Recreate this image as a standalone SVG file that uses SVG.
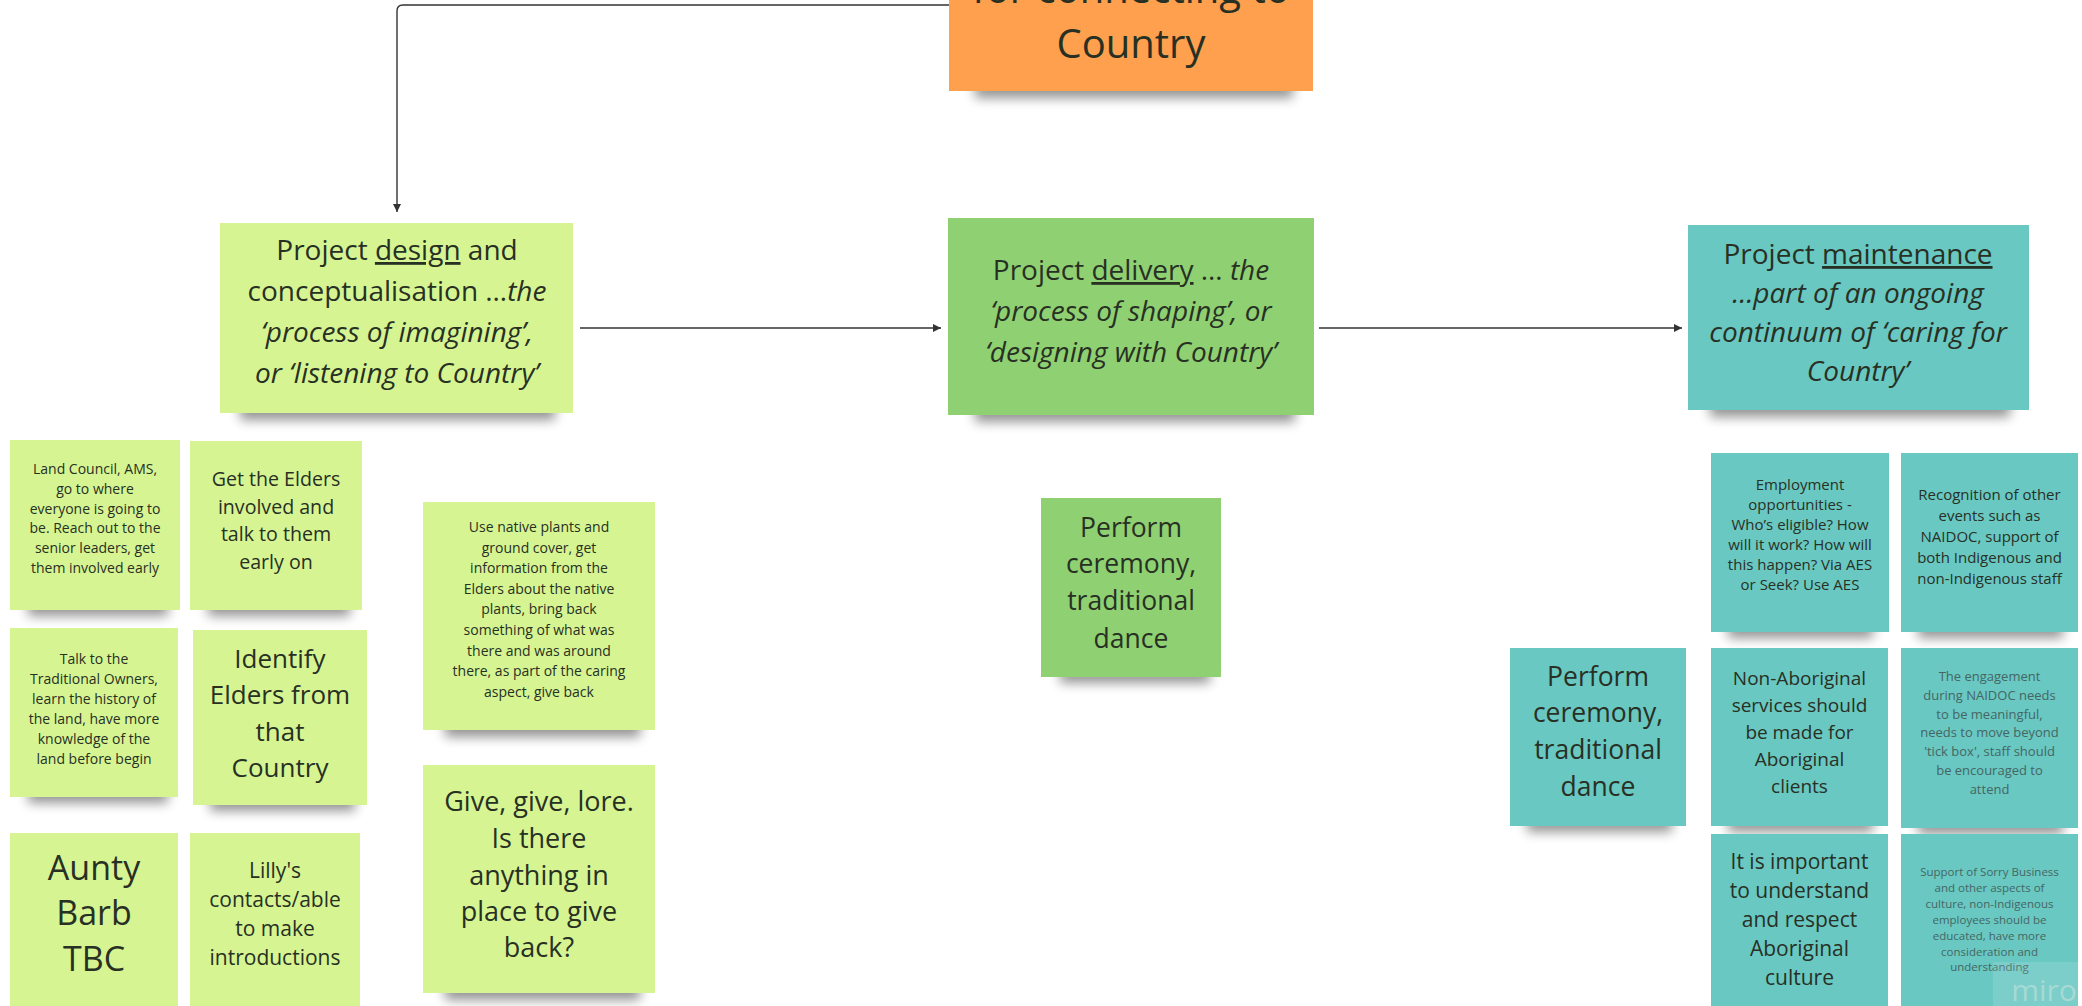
<svg xmlns="http://www.w3.org/2000/svg" width="2082" height="1006" viewBox="0 0 2082 1006">
<style>
text{font-family:"Open Sans","Noto Sans","Liberation Sans",sans-serif;fill:#283024;text-anchor:middle}
.lg{fill:#d6f592}
.gr{fill:#8fd172}
.te{fill:#69c8c2}
.or{fill:#fea04d}
.sh{fill:#000;opacity:.42;filter:url(#blur)}
.conn{fill:none;stroke:#333;stroke-width:1.4}
.it{font-style:italic}
.u{text-decoration:underline}
.fade{fill:#456663}
</style>
<defs>
<filter id="blur" x="-20%" y="-150%" width="140%" height="400%"><feGaussianBlur stdDeviation="6"/></filter>
<marker id="ah" viewBox="0 0 10 10" refX="10" refY="5" markerWidth="8" markerHeight="8" markerUnits="userSpaceOnUse" orient="auto"><path d="M0,0 L10,5 L0,10 z" fill="#333"/></marker>
</defs>
<rect width="2082" height="1006" fill="#fff"/>

<g id="connectors">
<path class="conn" d="M949,5 H403 Q397,5 397,11 V212" marker-end="url(#ah)"/>
<path class="conn" d="M580,328 H941" marker-end="url(#ah)"/>
<path class="conn" d="M1319,328 H1682" marker-end="url(#ah)"/>
</g>

<g id="n-top">
<rect class="sh" x="975" y="80" width="318" height="18"/>
<rect class="or" x="949" y="-60" width="364" height="151"/>
<text font-size="40"><tspan x="1131" y="3">for connecting to</tspan><tspan x="1131" y="58">Country</tspan></text>
</g>

<g id="n-design">
<rect class="sh" x="240" y="400" width="315" height="20"/>
<rect class="lg" x="220" y="223" width="353" height="190"/>
<text font-size="28"><tspan x="397" y="260">Project <tspan class="u">design</tspan> and</tspan><tspan x="397" y="301">conceptualisation …<tspan class="it">the</tspan></tspan><tspan x="397" y="342" class="it">‘process of imagining’,</tspan><tspan x="397" y="383" class="it">or ‘listening to Country’</tspan></text>
</g>

<g id="n-delivery">
<rect class="sh" x="975" y="402" width="320" height="20"/>
<rect class="gr" x="948" y="218" width="366" height="197"/>
<text font-size="28"><tspan x="1131" y="280">Project <tspan class="u">delivery</tspan> … <tspan class="it">the</tspan></tspan><tspan x="1131" y="321" class="it">‘process of shaping’, or</tspan><tspan x="1131" y="362" class="it">‘designing with Country’</tspan></text>
</g>

<g id="n-maintenance">
<rect class="sh" x="1710" y="397" width="300" height="20"/>
<rect class="te" x="1688" y="225" width="341" height="185"/>
<text font-size="28"><tspan x="1858" y="264">Project <tspan class="u">maintenance</tspan></tspan><tspan x="1858" y="303" class="it">…part of an ongoing</tspan><tspan x="1858" y="342" class="it">continuum of ‘caring for</tspan><tspan x="1858" y="381" class="it">Country’</tspan></text>
</g>

<g id="n-land">
<rect class="sh" x="28" y="598" width="140" height="18"/>
<rect class="lg" x="10" y="440" width="170" height="170"/>
<text font-size="14"><tspan x="95" y="474">Land Council, AMS,</tspan><tspan x="95" y="494">go to where</tspan><tspan x="95" y="514">everyone is going to</tspan><tspan x="95" y="533">be. Reach out to the</tspan><tspan x="95" y="553">senior leaders, get</tspan><tspan x="95" y="573">them involved early</tspan></text>
</g>

<g id="n-getelders">
<rect class="sh" x="208" y="598" width="142" height="18"/>
<rect class="lg" x="190" y="441" width="172" height="169"/>
<text font-size="19.6"><tspan x="276" y="486">Get the Elders</tspan><tspan x="276" y="514">involved and</tspan><tspan x="276" y="541">talk to them</tspan><tspan x="276" y="569">early on</tspan></text>
</g>

<g id="n-talk">
<rect class="sh" x="28" y="785" width="140" height="18"/>
<rect class="lg" x="10" y="628" width="168" height="169"/>
<text font-size="14"><tspan x="94" y="664">Talk to the</tspan><tspan x="94" y="684">Traditional Owners,</tspan><tspan x="94" y="704">learn the history of</tspan><tspan x="94" y="724">the land, have more</tspan><tspan x="94" y="744">knowledge of the</tspan><tspan x="94" y="764">land before begin</tspan></text>
</g>

<g id="n-identify">
<rect class="sh" x="210" y="793" width="145" height="18"/>
<rect class="lg" x="193" y="630" width="174" height="175"/>
<text font-size="26"><tspan x="280" y="668">Identify</tspan><tspan x="280" y="704">Elders from</tspan><tspan x="280" y="741">that</tspan><tspan x="280" y="777">Country</tspan></text>
</g>

<g id="n-aunty">
<rect class="lg" x="10" y="833" width="168" height="173"/>
<text font-size="34"><tspan x="94" y="880">Aunty</tspan><tspan x="94" y="925">Barb</tspan><tspan x="94" y="971">TBC</tspan></text>
</g>

<g id="n-lilly">
<rect class="lg" x="190" y="833" width="170" height="173"/>
<text font-size="21"><tspan x="275" y="878">Lilly's</tspan><tspan x="275" y="907">contacts/able</tspan><tspan x="275" y="936">to make</tspan><tspan x="275" y="965">introductions</tspan></text>
</g>

<g id="n-native">
<rect class="sh" x="445" y="717" width="195" height="20"/>
<rect class="lg" x="423" y="502" width="232" height="228"/>
<text font-size="14"><tspan x="539" y="532">Use native plants and</tspan><tspan x="539" y="553">ground cover, get</tspan><tspan x="539" y="573">information from the</tspan><tspan x="539" y="594">Elders about the native</tspan><tspan x="539" y="614">plants, bring back</tspan><tspan x="539" y="635">something of what was</tspan><tspan x="539" y="656">there and was around</tspan><tspan x="539" y="676">there, as part of the caring</tspan><tspan x="539" y="697">aspect, give back</tspan></text>
</g>

<g id="n-give">
<rect class="sh" x="445" y="980" width="195" height="20"/>
<rect class="lg" x="423" y="765" width="232" height="228"/>
<text font-size="27"><tspan x="539" y="811">Give, give, lore.</tspan><tspan x="539" y="848">Is there</tspan><tspan x="539" y="885">anything in</tspan><tspan x="539" y="921">place to give</tspan><tspan x="539" y="957">back?</tspan></text>
</g>

<g id="n-perform1">
<rect class="sh" x="1060" y="665" width="150" height="18"/>
<rect class="gr" x="1041" y="498" width="180" height="179"/>
<text font-size="26.5"><tspan x="1131" y="537">Perform</tspan><tspan x="1131" y="573">ceremony,</tspan><tspan x="1131" y="610">traditional</tspan><tspan x="1131" y="648">dance</tspan></text>
</g>

<g id="n-employment">
<rect class="sh" x="1728" y="620" width="145" height="18"/>
<rect class="te" x="1711" y="453" width="178" height="179"/>
<text font-size="15"><tspan x="1800" y="490">Employment</tspan><tspan x="1800" y="510">opportunities -</tspan><tspan x="1800" y="530">Who’s eligible? How</tspan><tspan x="1800" y="550">will it work? How will</tspan><tspan x="1800" y="570">this happen? Via AES</tspan><tspan x="1800" y="590">or Seek? Use AES</tspan></text>
</g>

<g id="n-recognition">
<rect class="sh" x="1918" y="620" width="145" height="18"/>
<rect class="te" x="1901" y="453" width="177" height="179"/>
<text font-size="15"><tspan x="1989.5" y="500">Recognition of other</tspan><tspan x="1989.5" y="521">events such as</tspan><tspan x="1989.5" y="542">NAIDOC, support of</tspan><tspan x="1989.5" y="563">both Indigenous and</tspan><tspan x="1989.5" y="584">non-Indigenous staff</tspan></text>
</g>

<g id="n-perform2">
<rect class="sh" x="1527" y="814" width="145" height="18"/>
<rect class="te" x="1510" y="648" width="176" height="178"/>
<text font-size="26.5"><tspan x="1598" y="686">Perform</tspan><tspan x="1598" y="722">ceremony,</tspan><tspan x="1598" y="759">traditional</tspan><tspan x="1598" y="796">dance</tspan></text>
</g>

<g id="n-nonab">
<rect class="sh" x="1728" y="814" width="145" height="18"/>
<rect class="te" x="1711" y="648" width="177" height="178"/>
<text font-size="19"><tspan x="1799.5" y="685">Non-Aboriginal</tspan><tspan x="1799.5" y="712">services should</tspan><tspan x="1799.5" y="739">be made for</tspan><tspan x="1799.5" y="766">Aboriginal</tspan><tspan x="1799.5" y="793">clients</tspan></text>
</g>

<g id="n-engagement">
<rect class="sh" x="1918" y="816" width="145" height="18"/>
<rect class="te" x="1901" y="648" width="177" height="180"/>
<text font-size="13" class="fade"><tspan x="1989.5" y="681">The engagement</tspan><tspan x="1989.5" y="700">during NAIDOC needs</tspan><tspan x="1989.5" y="719">to be meaningful,</tspan><tspan x="1989.5" y="737">needs to move beyond</tspan><tspan x="1989.5" y="756">'tick box', staff should</tspan><tspan x="1989.5" y="775">be encouraged to</tspan><tspan x="1989.5" y="794">attend</tspan></text>
</g>

<g id="n-important">
<rect class="te" x="1711" y="834" width="177" height="180"/>
<text font-size="21"><tspan x="1799.5" y="869">It is important</tspan><tspan x="1799.5" y="898">to understand</tspan><tspan x="1799.5" y="927">and respect</tspan><tspan x="1799.5" y="956">Aboriginal</tspan><tspan x="1799.5" y="985">culture</tspan></text>
</g>

<g id="n-support">
<rect class="te" x="1901" y="834" width="177" height="180"/>
<text font-size="11.5" class="fade"><tspan x="1989.5" y="876">Support of Sorry Business</tspan><tspan x="1989.5" y="892">and other aspects of</tspan><tspan x="1989.5" y="908">culture, non-Indigenous</tspan><tspan x="1989.5" y="924">employees should be</tspan><tspan x="1989.5" y="940">educated, have more</tspan><tspan x="1989.5" y="956">consideration and</tspan><tspan x="1989.5" y="971">understanding</tspan></text>
</g>

<g id="watermark">
<rect x="1993" y="962" width="89" height="44" fill="#fff" opacity="0.12"/>
<text x="2044" y="1001" font-size="30" style="fill:#a8d9d5">miro</text>
</g>
</svg>
